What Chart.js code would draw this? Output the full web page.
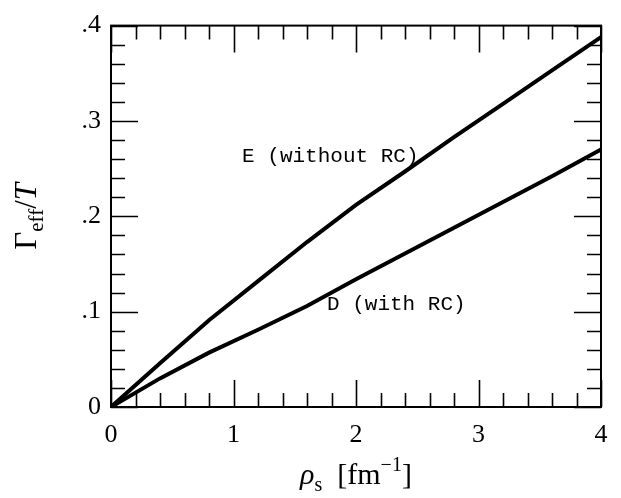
<!DOCTYPE html>
<html>
<head>
<meta charset="utf-8">
<script src="https://cdn.jsdelivr.net/npm/chart.js@4.4.0/dist/chart.umd.min.js"></script>
<style>
  body { margin: 0; background: #fff; }
  canvas { display: block; }
</style>
</head>
<body>
<canvas id="myChart" width="621" height="498"></canvas>
<script>
// data
var rho = [0, 0.4, 0.8, 1.2, 1.6, 2.0, 2.4, 2.8, 3.2, 3.6, 4.0];
var gammaE = [0, 0.046, 0.091, 0.132, 0.173, 0.212, 0.247, 0.283, 0.318, 0.353, 0.388];
var gammaD = [0, 0.030, 0.057, 0.081, 0.106, 0.134, 0.161, 0.188, 0.215, 0.242, 0.270];
var xTicks = [0, 1, 2, 3, 4];
var yTicks = [0, 0.1, 0.2, 0.3, 0.4];
var labelE = 'E (without RC)';
var labelD = 'D (with RC)';

var serif = "'Liberation Serif', 'DejaVu Serif', serif";

function toPoints(xs, ys) {
    return xs.map(function(x, i) { return { x: x, y: ys[i] }; });
}

// frame, inward ticks on all four sides, titles and line labels
var framePlugin = {
    id: 'frame',
    afterDatasetsDraw: function(chart) {
        var c = chart.ctx, a = chart.chartArea;
        var xs = chart.scales.x, ys = chart.scales.y;
        c.save();
        c.strokeStyle = '#000';
        c.lineWidth = 2;
        c.strokeRect(a.left, a.top, a.right - a.left, a.bottom - a.top);
        c.lineWidth = 1.6;
        c.beginPath();
        for (var i = 0; i <= 20; i++) {
            var px = Math.round(xs.getPixelForValue(i * 0.2)) + 0.5;
            var len = (i % 5 === 0) ? 27 : 14;
            c.moveTo(px, a.bottom); c.lineTo(px, a.bottom - len);
            c.moveTo(px, a.top); c.lineTo(px, a.top + len);
        }
        for (var j = 0; j <= 20; j++) {
            var py = Math.round(ys.getPixelForValue(j * 0.02)) + 0.5;
            var l2 = (j % 5 === 0) ? 27 : 14;
            c.moveTo(a.left, py); c.lineTo(a.left + l2, py);
            c.moveTo(a.right, py); c.lineTo(a.right - l2, py);
        }
        c.stroke();
        c.restore();
    },
    afterDraw: function(chart) {
        var c = chart.ctx, a = chart.chartArea;
        var xs = chart.scales.x, ys = chart.scales.y;
        c.save();
        c.fillStyle = '#000';
        c.textBaseline = 'alphabetic';

        // x title: rho_s [fm^-1]
        var parts = [
            { t: 'ρ', f: 'italic 30px ' + serif, dy: 0 },
            { t: 's', f: '20px ' + serif, dy: 7 },
            { t: '  [fm', f: '30px ' + serif, dy: 0 },
            { t: '−1', f: '20px ' + serif, dy: -13 },
            { t: ']', f: '30px ' + serif, dy: 0 }
        ];
        var w = 0;
        parts.forEach(function(p) { c.font = p.f; w += c.measureText(p.t).width; });
        var x0 = (a.left + a.right) / 2 - w / 2, base = 484;
        parts.forEach(function(p) {
            c.font = p.f;
            c.fillText(p.t, x0, base + p.dy);
            x0 += c.measureText(p.t).width;
        });

        // y title: Gamma_eff / T
        var yparts = [
            { t: 'Γ', f: '31px ' + serif, dy: 0 },
            { t: 'eff', f: '21px ' + serif, dy: 7 },
            { t: '/', f: '31px ' + serif, dy: 0 },
            { t: 'T', f: 'italic 31px ' + serif, dy: 0 }
        ];
        var wy = 0;
        yparts.forEach(function(p) { c.font = p.f; wy += c.measureText(p.t).width; });
        c.translate(36, (a.top + a.bottom) / 2);
        c.rotate(-Math.PI / 2);
        var y0 = -wy / 2;
        yparts.forEach(function(p) {
            c.font = p.f;
            c.fillText(p.t, y0, p.dy);
            y0 += c.measureText(p.t).width;
        });
        c.setTransform(1, 0, 0, 1, 0, 0);

        // curve labels
        c.font = "21px 'Liberation Mono', monospace";
        c.fillText(labelE, xs.getPixelForValue(1.07), ys.getPixelForValue(0.257));
        c.fillText(labelD, xs.getPixelForValue(1.763), ys.getPixelForValue(0.102));
        c.restore();
    }
};

var ctx = document.getElementById('myChart').getContext('2d');
var myChart = new Chart(ctx, {
    type: 'line',
    data: {
        datasets: [{
            label: labelE,
            data: toPoints(rho, gammaE),
            borderColor: '#000',
            borderWidth: 4,
            pointRadius: 0,
            tension: 0,
            fill: false
        }, {
            label: labelD,
            data: toPoints(rho, gammaD),
            borderColor: '#000',
            borderWidth: 4,
            pointRadius: 0,
            tension: 0,
            fill: false
        }]
    },
    options: {
        responsive: false,
        animation: false,
        devicePixelRatio: 1,
        layout: { padding: { top: 16, right: 20, left: 0, bottom: 0 } },
        plugins: {
            legend: { display: false },
            tooltip: { enabled: false }
        },
        scales: {
            x: {
                type: 'linear',
                min: 0,
                max: 4,
                afterBuildTicks: function(s) { s.ticks = xTicks.map(function(v) { return { value: v }; }); },
                afterFit: function(s) { s.height = 91; },
                grid: { display: false, drawTicks: false },
                border: { display: false },
                ticks: {
                    color: '#000',
                    padding: 13,
                    maxRotation: 0,
                    font: { family: serif, size: 26 },
                    callback: function(v) { return String(v); }
                }
            },
            y: {
                type: 'linear',
                min: 0,
                max: 0.4,
                afterBuildTicks: function(s) { s.ticks = yTicks.map(function(v) { return { value: v }; }); },
                afterFit: function(s) { s.width = 111; },
                grid: { display: false, drawTicks: false },
                border: { display: false },
                ticks: {
                    color: '#000',
                    padding: 10,
                    font: { family: serif, size: 26 },
                    callback: function(v) { return v === 0 ? '0' : '.' + Math.round(v * 10); }
                }
            }
        }
    },
    plugins: [framePlugin]
});
</script>
</body>
</html>
